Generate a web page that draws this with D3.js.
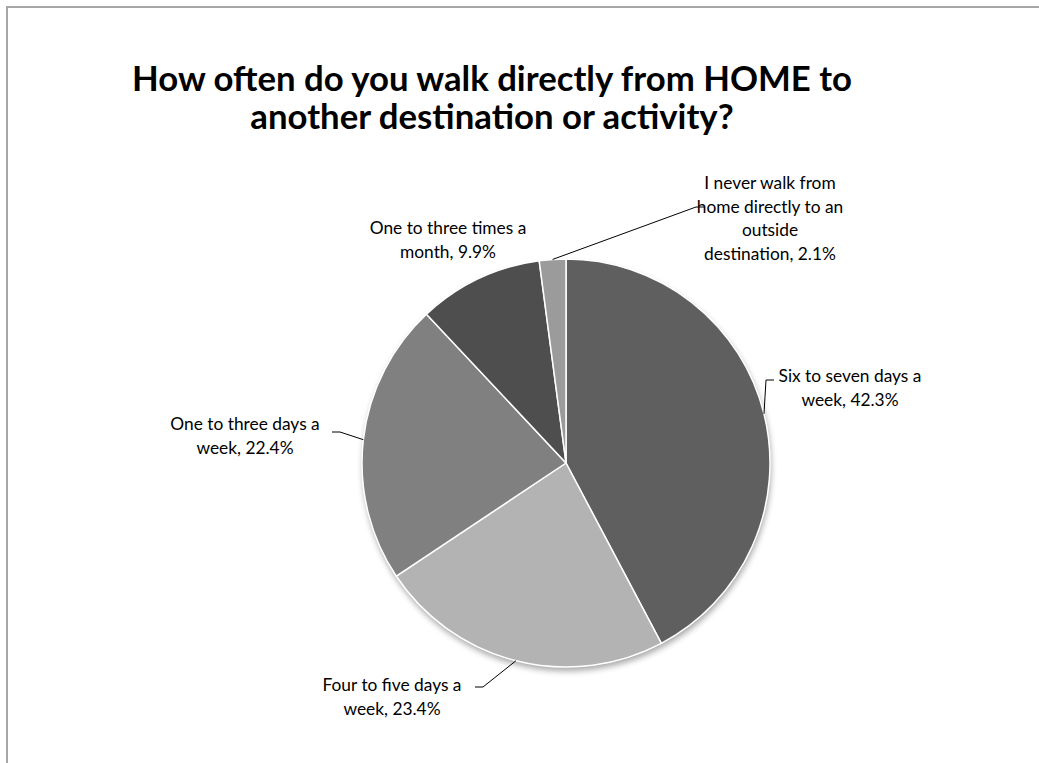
<!DOCTYPE html>
<html>
<head>
<meta charset="utf-8">
<script src="https://cdn.jsdelivr.net/npm/d3@7"></script>
<style>
  html, body { margin: 0; padding: 0; background: #ffffff; }
  svg { display: block; }
  text { font-family: "Lato", "Open Sans", "Noto Sans", sans-serif; fill: #000; }
</style>
</head>
<body>
<svg id="chart" width="1039" height="763"></svg>
<script>
// Survey answers, in drawing order (clockwise from 12 o'clock)
const categories = [
  "Six to seven days a week",
  "Four to five days a week",
  "One to three days a week",
  "One to three times a month",
  "I never walk from home directly to an outside destination"
];
const values = [42.3, 23.4, 22.4, 9.9, 2.1];
const sliceColors = ["#5f5f5f", "#b3b3b3", "#808080", "#4e4e4e", "#9b9b9b"];
const labelLines = [
  ["Six to seven days a", "week, 42.3%"],
  ["Four to five days a", "week, 23.4%"],
  ["One to three days a", "week, 22.4%"],
  ["One to three times a", "month, 9.9%"],
  ["I never walk from", "home directly to an", "outside", "destination, 2.1%"]
];
const titleLines = ["How often do you walk directly from HOME to", "another destination or activity?"];

// Label placement: text centre x, first baseline y, and the leader elbow (null = no leader)
const labelLayout = [
  { x: 850, y: 382, elbow: [766, 380], stub: 774 },
  { x: 392, y: 691, elbow: [483, 687], stub: 475 },
  { x: 245, y: 430, elbow: [340, 432], stub: 332 },
  { x: 448, y: 234, elbow: null },
  { x: 770, y: 189, elbow: [696, 207], stub: 704 }
];

const svg = d3.select("#chart");
const W = 1039, H = 763;

// Outer frame (top and left edges visible)
svg.append("path")
  .attr("d", `M7,${H} L7,7 L${W},7`)
  .attr("fill", "none")
  .attr("stroke", "#a6a6a6")
  .attr("stroke-width", 2);

// Title: a tall bold face, narrowed horizontally so line 1 spans 720px
const title = svg.append("g");
const titleSize = 34, titleX = 492;
const titleTexts = titleLines.map((t, i) =>
  title.append("text")
    .attr("x", 0)
    .attr("y", 0)
    .attr("text-anchor", "middle")
    .attr("font-weight", "bold")
    .attr("font-size", titleSize)
    .text(t)
);
{
  const sx = 720 / titleTexts[0].node().getComputedTextLength();
  titleTexts.forEach((t, i) =>
    t.attr("transform", `translate(${titleX},${91 + i * 38}) scale(${sx},1)`)
  );
}

// Pie
const cx = 566, cy = 463, r = 204;
const pie = d3.pie().sort(null).value(d => d)(values);
const arc = d3.arc().innerRadius(0).outerRadius(r);

const defs = svg.append("defs");
const shadow = defs.append("filter").attr("id", "pieShadow")
  .attr("x", "-20%").attr("y", "-20%").attr("width", "140%").attr("height", "140%");
shadow.append("feGaussianBlur").attr("in", "SourceAlpha").attr("stdDeviation", 3).attr("result", "b");
shadow.append("feOffset").attr("in", "b").attr("dx", 1).attr("dy", 4).attr("result", "o");
shadow.append("feComponentTransfer").attr("in", "o").attr("result", "s")
  .append("feFuncA").attr("type", "linear").attr("slope", 0.35);
const merge = shadow.append("feMerge");
merge.append("feMergeNode").attr("in", "s");
merge.append("feMergeNode").attr("in", "SourceGraphic");

const pg = svg.append("g").attr("transform", `translate(${cx},${cy})`);
pg.append("circle").attr("r", r).attr("fill", "#fff").attr("filter", "url(#pieShadow)");
pg.selectAll("path.slice")
  .data(pie)
  .join("path")
  .attr("class", "slice")
  .attr("d", arc)
  .attr("fill", (d, i) => sliceColors[i])
  .attr("stroke", "#ffffff")
  .attr("stroke-width", 1.5)
  .attr("stroke-linejoin", "round");

// Labels and leader lines
const labelSize = 17;
const lg = svg.append("g");
pie.forEach((d, i) => {
  const L = labelLayout[i];
  const g = lg.append("g");
  labelLines[i].forEach((t, j) => {
    g.append("text")
      .attr("x", L.x)
      .attr("y", L.y + j * 23.5)
      .attr("text-anchor", "middle")
      .attr("font-size", labelSize)
      .text(t);
  });
  if (L.elbow) {
    const mid = (d.startAngle + d.endAngle) / 2;
    const px = cx + r * Math.sin(mid), py = cy - r * Math.cos(mid);
    lg.append("path")
      .attr("d", `M${px},${py} L${L.elbow[0]},${L.elbow[1]} L${L.stub},${L.elbow[1]}`)
      .attr("fill", "none")
      .attr("stroke", "#000")
      .attr("stroke-width", 1);
  }
});
// Fit label font to width of a reference line
{
  const ref = lg.selectAll("text").filter(function () { return this.textContent === "Six to seven days a"; }).node();
  const k = 143 / ref.getComputedTextLength();
  lg.selectAll("text").attr("font-size", labelSize * k);
}
</script>
</body>
</html>
